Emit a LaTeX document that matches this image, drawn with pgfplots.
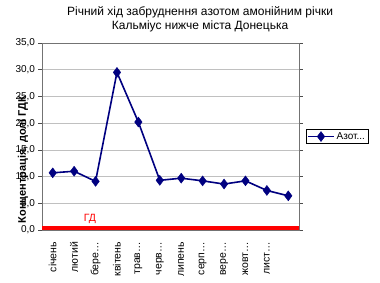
\documentclass[border=0pt]{standalone}
\usepackage{pgfplots}
\pgfplotsset{compat=1.18}
\usepackage{fontspec}
\setmainfont{Liberation Sans}
\definecolor{exnavy}{RGB}{0,0,128}
\definecolor{gridgray}{RGB}{192,192,192}
\begin{document}
\begin{tikzpicture}[x=1pt,y=1pt]
\useasboundingbox (0,0) rectangle (380,282);
\begin{axis}[
  at={(42pt,52pt)}, anchor=south west,
  scale only axis, width=257pt, height=187pt,
  xmin=-0.5, xmax=11.5, ymin=0, ymax=35,
  ytick={0,5,...,35},
  ymajorgrids, grid style={gridgray, line width=0.7pt},
  axis line style={black!55, line width=0.8pt},
  tick align=outside, major tick length=3.5pt,
  tick style={black!70, line width=0.7pt},
  y tick label style={font=\fontsize{10}{11}\selectfont, /pgf/number format/.cd, use comma, fixed, fixed zerofill, precision=1, assume math mode=true},
  xtick={0,...,10},
  xticklabels={січень,лютий,бере…,квітень,трав…,черв…,липень,серп…,вере…,жовт…,лист…},
  x tick label style={rotate=90, anchor=east, font=\fontsize{10.5}{11}\selectfont},
  xticklabel shift=5pt,
  x tick style={draw=none},
  extra x ticks={-0.5,0.5,...,11.5},
  extra x tick labels={},
  extra x tick style={tick style={black!70, line width=0.7pt}, major tick length=3.5pt},
  ylabel={\bfseries Концентрація, долі ГДК},
  ylabel style={at={(axis description cs:-0.074,0.377)}, anchor=center, font=\fontsize{11}{12}\selectfont},
  title={Річний хід забруднення азотом амонійним річки\\Кальміус нижче міста Донецька},
  title style={at={(axis description cs:0.615,1.096)}, anchor=center, align=center, font=\fontsize{12}{14}\selectfont},
  legend style={at={(axis description cs:1.027,0.54)}, anchor=north west, draw=black, line width=0.6pt, font=\fontsize{10}{10}\selectfont, inner sep=1pt, row sep=0pt},
  legend cell align=left,
  legend image code/.code={\draw[#1, line width=1.5pt] (0pt,0pt) -- (26pt,0pt); \draw[#1, mark repeat=1, only marks] plot coordinates {(13pt,0pt)};},
]
\addplot[exnavy, line width=1.6pt, mark=diamond*, mark size=5pt, mark options={line width=0.4pt, fill=exnavy}]
  coordinates {(0,10.7) (1,11.0) (2,9.1) (3,29.5) (4,20.2) (5,9.3) (6,9.7) (7,9.2) (8,8.6) (9,9.2) (10,7.4) (11,6.4)};
\addlegendentry{Азот...}
\addplot[red, line width=3.5pt, forget plot] coordinates {(-0.5,0.4) (11.5,0.4)};
\node[red, font=\fontsize{10.5}{11}\selectfont] at (axis cs:1.74,2.0) {ГД};
\end{axis}
\end{tikzpicture}
\end{document}
